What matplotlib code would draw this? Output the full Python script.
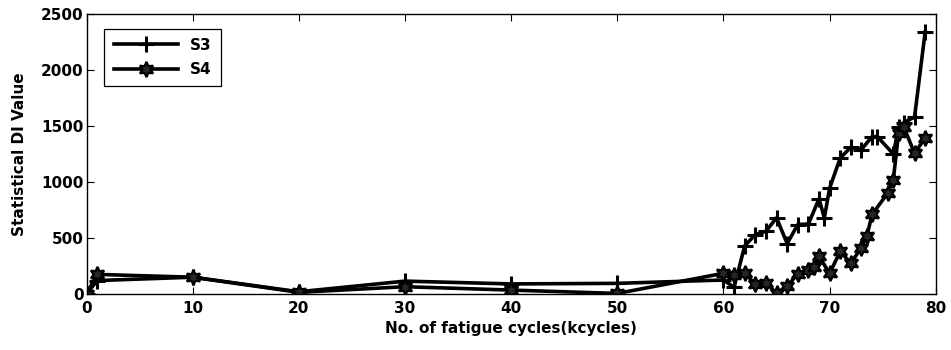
import matplotlib.pyplot as plt
import numpy as np

plt.rcParams['font.family'] = ['DejaVu Sans']
plt.rcParams['font.weight'] = 'bold'

# kcycles and DI values
s3_x = [0, 1, 10, 20, 30, 40, 50, 60, 61, 62, 63, 64, 65, 66, 67, 68, 69, 69.5, 70,
        71, 72, 73, 74, 74.5, 76, 76.5, 77, 78, 79]
s3_y = [0, 120, 150, 20, 115, 90, 95, 125, 60, 430, 530, 560, 680, 450, 620, 625, 850, 680, 945,
        1215, 1310, 1290, 1405, 1405, 1250, 1490, 1530, 1580, 2340]

s4_x = [0, 1, 10, 20, 30, 40, 50, 60, 61, 62, 63, 64, 65, 66, 67, 68, 68.5, 69, 70,
        71, 72, 73, 73.5, 74, 75.5, 76, 76.5, 77, 78, 79]
s4_y = [0, 175, 150, 15, 65, 35, 5, 185, 170, 190, 85, 100, 5, 70, 180, 215, 245, 335, 185,
        380, 275, 415, 515, 710, 905, 1020, 1440, 1490, 1255, 1395]

xticks = [0, 10, 20, 30, 40, 50, 60, 70, 80]
yticks = [0, 500, 1000, 1500, 2000, 2500]

fig = plt.figure(figsize=(9.51, 3.5), dpi=100)
ax = fig.add_axes([0.091, 0.16, 0.893, 0.80])

ax.plot(s3_x, s3_y, color='k', lw=2.6, marker='+', ms=11, mew=2.2, label='S3')
ax.plot(s4_x, s4_y, color='k', lw=2.6, marker=(6, 1, 0), ms=11, mew=1.6,
        mfc='0.15', mec='k', label='S4')

ax.set_xlim(0, 80)
ax.set_ylim(0, 2500)
ax.set_xticks(xticks)
ax.set_yticks(yticks)
ax.tick_params(direction='in', top=True, right=True, labelsize=11, length=5, width=0.8)
ax.tick_params(axis='x', pad=5)
ax.tick_params(axis='y', pad=2)
for lab in ax.get_xticklabels() + ax.get_yticklabels():
    lab.set_fontweight('bold')
for s in ax.spines.values():
    s.set_linewidth(1)

ax.set_xlabel('No. of fatigue cycles(kcycles)', fontsize=11, fontweight='bold', labelpad=4)
ax.set_ylabel('Statistical DI Value', fontsize=11, fontweight='bold', labelpad=10)

leg = ax.legend(loc='upper left', fontsize=11, handlelength=4.2, borderpad=0.6,
                labelspacing=0.6, fancybox=False, framealpha=1, edgecolor='k',
                bbox_to_anchor=(0.012, 0.975))
leg.get_frame().set_linewidth(0.9)

fig.savefig('out.png', dpi=100)
